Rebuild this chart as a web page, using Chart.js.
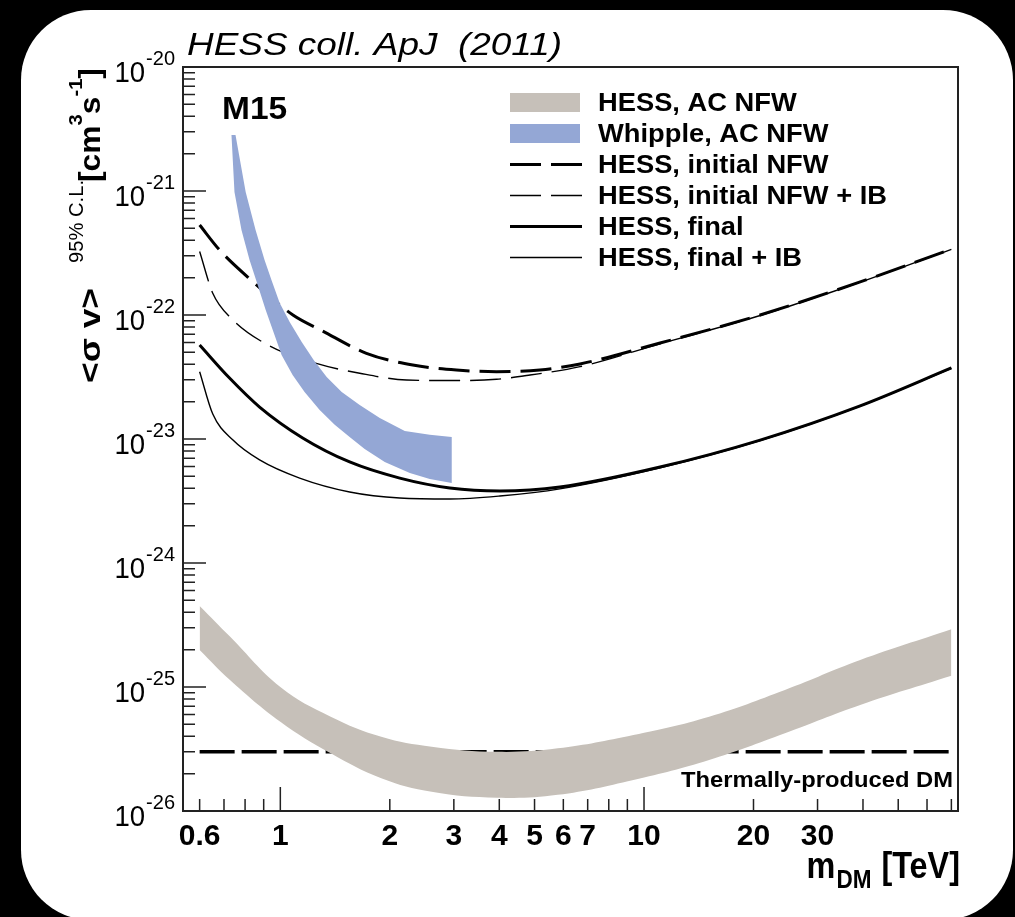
<!DOCTYPE html>
<html>
<head>
<meta charset="utf-8">
<title>HESS coll. ApJ (2011)</title>
<script src="https://cdn.jsdelivr.net/npm/chart.js@4.4.1/dist/chart.umd.min.js"></script>
<style>
    html, body { margin: 0; padding: 0; background: #000; }
    canvas { display: block; }
</style>
</head>
<body>
<canvas id="chart" width="1015" height="917"></canvas>
<script>
// values: m_DM in TeV, <sigma v> in cm^3 s^-1
var xTickLabels = [0.6, 1, 2, 3, 4, 5, 6, 7, 10, 20, 30];
var xMajorTicks = [1, 10];
var xMinorTicks = [0.6, 0.7, 0.8, 0.9, 2, 3, 4, 5, 6, 7, 8, 9, 20, 30, 40, 50, 60, 70];
var yDecades = [-26, -25, -24, -23, -22, -21, -20];

var acNfwMass = [0.6, 0.727, 1.0, 1.376, 1.895, 2.607, 3.95, 5.79, 9.35, 15.1, 24.4, 39.3, 70];
var acNfwUpper = [4.5e-25, 2.55e-25, 1.0e-25, 5.76e-26, 3.97e-26, 3.3e-26, 3.0e-26, 3.2e-26, 4.1e-26, 5.76e-26, 9.46e-26, 1.65e-25, 2.92e-25];
var acNfwLower = [1.99e-25, 1.14e-25, 5.25e-26, 2.92e-26, 1.84e-26, 1.43e-26, 1.28e-26, 1.35e-26, 1.78e-26, 2.58e-26, 4.24e-26, 7.16e-26, 1.23e-25];

var whippleUpperMass = [0.753, 0.803, 0.855, 0.905, 0.946, 0.996, 1.061, 1.145, 1.235, 1.341, 1.475, 1.653, 1.877, 2.199, 2.576, 2.96];
var whippleUpper = [2.83e-21, 9.82e-22, 4.84e-22, 2.78e-22, 1.91e-22, 1.25e-22, 8.79e-23, 6.05e-23, 4.34e-23, 3.16e-23, 2.39e-23, 1.88e-23, 1.48e-23, 1.16e-23, 1.08e-23, 1.04e-23];
var whippleLowerMass = [0.734, 0.748, 0.782, 0.823, 0.866, 0.911, 0.964, 1.008, 1.081, 1.166, 1.283, 1.411, 1.551, 1.706, 1.937, 2.27, 2.576, 2.96];
var whippleLower = [2.83e-21, 9.82e-22, 4.84e-22, 2.78e-22, 1.75e-22, 1.1e-22, 6.9e-23, 4.75e-23, 3.28e-23, 2.39e-23, 1.71e-23, 1.3e-23, 1.04e-23, 8.29e-24, 6.53e-24, 5.32e-24, 4.75e-24, 4.42e-24];

var initialMass = [0.6, 0.681, 0.832, 1.083, 1.307, 1.725, 2.313, 3.05, 3.93, 5.17, 6.67, 11.07, 20.86, 39.3, 70];
var initialSigmaV = [5.32e-22, 3.34e-22, 1.91e-22, 1.0e-22, 7.43e-23, 4.91e-23, 3.95e-23, 3.6e-23, 3.49e-23, 3.6e-23, 4.03e-23, 5.94e-23, 1.0e-22, 1.85e-22, 3.4e-22];

var initialIbMass = [0.6, 0.652, 0.733, 0.924, 1.256, 1.653, 2.223, 2.987, 3.93, 4.86, 6.67, 11.07, 20.86, 39.3, 70];
var initialIbSigmaV = [3.25e-22, 1.5e-22, 9.4e-23, 5.73e-23, 4.07e-23, 3.39e-23, 2.99e-23, 2.96e-23, 3.03e-23, 3.28e-23, 3.83e-23, 5.85e-23, 9.9e-23, 1.84e-22, 3.38e-22];

var finalMass = [0.6, 0.725, 0.877, 1.152, 1.551, 2.13, 2.924, 4.015, 5.87, 11.07, 20.86, 39.3, 70];
var finalSigmaV = [5.73e-23, 3.1e-23, 1.81e-23, 1.02e-23, 6.53e-24, 4.84e-24, 4.03e-24, 3.81e-24, 4.1e-24, 5.94e-24, 9.8e-24, 1.85e-23, 3.74e-23];

var finalIbMass = [0.6, 0.652, 0.741, 0.877, 1.13, 1.551, 2.13, 2.924, 4.015, 5.87, 11.07, 20.86, 39.3, 70];
var finalIbSigmaV = [3.49e-23, 1.59e-23, 9.8e-24, 6.78e-24, 4.84e-24, 3.74e-24, 3.34e-24, 3.28e-24, 3.47e-24, 3.96e-24, 5.85e-24, 9.7e-24, 1.84e-23, 3.72e-23];

var thermalMass = [0.6, 70];
var thermalSigmaV = [3e-26, 3e-26];

// dataset indices shown in the legend, top to bottom
var legendOrder = [2, 0, 3, 4, 5, 6];

var FONT = '"Liberation Sans", Arial, Helvetica, sans-serif';
var GREY = '#c6c0b9';
var BLUE = '#94a7d5';
var DASH = [31, 10];

function toPoints(xs, ys) {
    return xs.map(function (x, i) {
        return {x: x, y: ys[i]};
    });
}

// upper edge left to right, then lower edge back, as one closed outline
function outline(upperX, upperY, lowerX, lowerY) {
    return toPoints(upperX, upperY).concat(toPoints(lowerX, lowerY).reverse());
}

function drawText(ctx, text, x, y, font, opts) {
    opts = opts || {};
    ctx.save();
    ctx.font = font;
    ctx.fillStyle = opts.color || '#000';
    ctx.textAlign = 'left';
    ctx.textBaseline = 'alphabetic';
    var natural = ctx.measureText(text).width;
    var sx = opts.width ? opts.width / natural : (opts.sx || 1);
    var w = natural * sx;
    var x0 = x;
    if (opts.align === 'right') {
        x0 = x - w;
    } else if (opts.align === 'center') {
        x0 = x - w / 2;
    }
    ctx.translate(x0, y);
    ctx.scale(sx, 1);
    ctx.fillText(text, 0, 0);
    ctx.restore();
    return w;
}

function band(label, data, color, fill, tension) {
    return {
        label: label,
        data: data,
        showLine: true,
        fill: fill,
        backgroundColor: color,
        borderColor: 'rgba(0,0,0,0)',
        borderWidth: 1,
        pointRadius: 0,
        tension: tension,
        order: 0
    };
}

function curve(label, xs, ys, width, dash) {
    return {
        label: label,
        data: toPoints(xs, ys),
        showLine: true,
        fill: false,
        borderColor: '#000',
        backgroundColor: '#000',
        borderWidth: width,
        borderDash: dash,
        borderCapStyle: 'butt',
        pointRadius: 0,
        cubicInterpolationMode: 'monotone',
        order: 1
    };
}

var decorations = {
    id: 'decorations',

    beforeDraw: function (chart) {
        var ctx = chart.ctx;
        var x = 21, y = 10, w = 992, h = 910, r = 70;
        ctx.save();
        ctx.fillStyle = '#000';
        ctx.fillRect(0, 0, chart.width, chart.height);
        ctx.fillStyle = '#fff';
        ctx.beginPath();
        ctx.moveTo(x + r, y);
        ctx.arcTo(x + w, y, x + w, y + h, r);
        ctx.arcTo(x + w, y + h, x, y + h, r);
        ctx.arcTo(x, y + h, x, y, r);
        ctx.arcTo(x, y, x + w, y, r);
        ctx.closePath();
        ctx.fill();
        ctx.restore();
    },

    // sits under the grey band, as in the original
    beforeDatasetsDraw: function (chart) {
        drawText(chart.ctx, 'Thermally-produced DM', chart.chartArea.right - 5, 787,
            'bold 22px ' + FONT, {align: 'right', sx: 1.08});
    },

    afterDatasetsDraw: function (chart) {
        var ctx = chart.ctx;
        var area = chart.chartArea;
        var xScale = chart.scales.x;
        var yScale = chart.scales.y;

        // frame
        ctx.save();
        ctx.strokeStyle = '#222';
        ctx.lineWidth = 2;
        ctx.strokeRect(area.left, area.top, area.right - area.left, area.bottom - area.top);

        // inward ticks, left and bottom only
        ctx.lineWidth = 1.5;
        ctx.beginPath();
        yDecades.forEach(function (e) {
            var y = yScale.getPixelForValue(Math.pow(10, e));
            ctx.moveTo(area.left, y);
            ctx.lineTo(area.left + 23, y);
            if (e < -20) {
                for (var m = 2; m <= 9; m++) {
                    var ym = yScale.getPixelForValue(m * Math.pow(10, e));
                    ctx.moveTo(area.left, ym);
                    ctx.lineTo(area.left + 12, ym);
                }
            }
        });
        xMajorTicks.forEach(function (v) {
            var x = xScale.getPixelForValue(v);
            ctx.moveTo(x, area.bottom);
            ctx.lineTo(x, area.bottom - 24);
        });
        xMinorTicks.forEach(function (v) {
            var x = xScale.getPixelForValue(v);
            ctx.moveTo(x, area.bottom);
            ctx.lineTo(x, area.bottom - 12);
        });
        ctx.stroke();
        ctx.restore();

        // tick labels
        yDecades.forEach(function (e) {
            var y = yScale.getPixelForValue(Math.pow(10, e));
            var supW = drawText(ctx, String(e), area.left - 8, y - 2, '20px ' + FONT, {align: 'right'});
            drawText(ctx, '10', area.left - 9 - supW, y + 14.5, '29px ' + FONT, {align: 'right', sx: 0.95});
        });
        xTickLabels.forEach(function (v) {
            drawText(ctx, String(v), xScale.getPixelForValue(v), area.bottom + 34, 'bold 30px ' + FONT, {align: 'center'});
        });

        // x axis title
        var right = area.right + 2;
        var w1 = drawText(ctx, '[TeV]', right, 878, 'bold 36px ' + FONT, {align: 'right', sx: 0.9});
        var w2 = drawText(ctx, 'DM', right - w1 - 10, 888, 'bold 25px ' + FONT, {align: 'right', sx: 0.9});
        drawText(ctx, 'm', right - w1 - 11 - w2, 878, 'bold 36px ' + FONT, {align: 'right', sx: 0.9});

        // y axis title, reading upwards
        ctx.save();
        ctx.translate(100, 383);
        ctx.rotate(-Math.PI / 2);
        drawText(ctx, '<\u03c3 v>', 0, 0, 'bold 30px ' + FONT, {width: 95});
        drawText(ctx, '95% C.L.', 120, -17, '20px ' + FONT, {width: 83});
        var fx = 201;
        fx += drawText(ctx, '[cm', fx, 0, 'bold 30px ' + FONT, {sx: 1.06});
        fx += drawText(ctx, '3', fx, -18, 'bold 19px ' + FONT, {sx: 1.06});
        fx += drawText(ctx, 's', fx, 0, 'bold 30px ' + FONT, {sx: 1.06});
        fx += drawText(ctx, '-1', fx, -18, 'bold 19px ' + FONT, {sx: 1.06});
        drawText(ctx, ']', fx, 0, 'bold 30px ' + FONT, {sx: 1.06});
        ctx.restore();

        // titles inside the figure
        drawText(ctx, 'HESS coll. ApJ  (2011)', 187, 55, 'italic 32px ' + FONT, {width: 375});
        drawText(ctx, 'M15', 222, 119, 'bold 31px ' + FONT, {sx: 1.08});

        // legend
        var x0 = 510, x1 = 582, textX = 598;
        legendOrder.forEach(function (index, row) {
            var ds = chart.data.datasets[index];
            var base = 111 + row * 31;
            var mid = base - 8.5;
            ctx.save();
            if (ds.order === 0) {
                ctx.fillStyle = ds.backgroundColor;
                ctx.fillRect(x0, mid - 9.5, x1 - x0 - 2, 19);
            } else {
                ctx.strokeStyle = ds.borderColor;
                ctx.lineWidth = ds.borderWidth;
                ctx.setLineDash(ds.borderDash || []);
                ctx.beginPath();
                ctx.moveTo(x0, mid);
                ctx.lineTo(x1, mid);
                ctx.stroke();
            }
            ctx.restore();
            drawText(ctx, ds.label, textX, base, 'bold 26px ' + FONT, {sx: 1.05});
        });
    }
};

var datasets = [
    band('Whipple, AC NFW', outline(whippleUpperMass, whippleUpper, whippleLowerMass, whippleLower), BLUE, 'shape', 0),
    band('HESS, AC NFW (lower edge)', toPoints(acNfwMass, acNfwLower), GREY, 2, 0.4),
    band('HESS, AC NFW', toPoints(acNfwMass, acNfwUpper), GREY, false, 0.4),
    curve('HESS, initial NFW', initialMass, initialSigmaV, 3, DASH),
    curve('HESS, initial NFW + IB', initialIbMass, initialIbSigmaV, 1.4, DASH),
    curve('HESS, final', finalMass, finalSigmaV, 3, []),
    curve('HESS, final + IB', finalIbMass, finalIbSigmaV, 1.4, []),
    {
        label: 'Thermally-produced DM',
        data: toPoints(thermalMass, thermalSigmaV),
        showLine: true,
        fill: false,
        borderColor: '#000',
        borderWidth: 3.5,
        borderDash: [35, 7],
        borderCapStyle: 'butt',
        pointRadius: 0,
        order: 2
    }
];

new Chart(document.getElementById('chart'), {
    type: 'scatter',
    data: {datasets: datasets},
    options: {
        responsive: false,
        animation: false,
        events: [],
        devicePixelRatio: 1,
        layout: {
            padding: {left: 183, top: 67, right: 57, bottom: 106}
        },
        scales: {
            x: {type: 'logarithmic', min: 0.54, max: 73, display: false},
            y: {type: 'logarithmic', min: 1e-26, max: 1e-20, display: false}
        },
        plugins: {
            legend: {display: false},
            tooltip: {enabled: false}
        }
    },
    plugins: [decorations]
});
</script>
</body>
</html>
